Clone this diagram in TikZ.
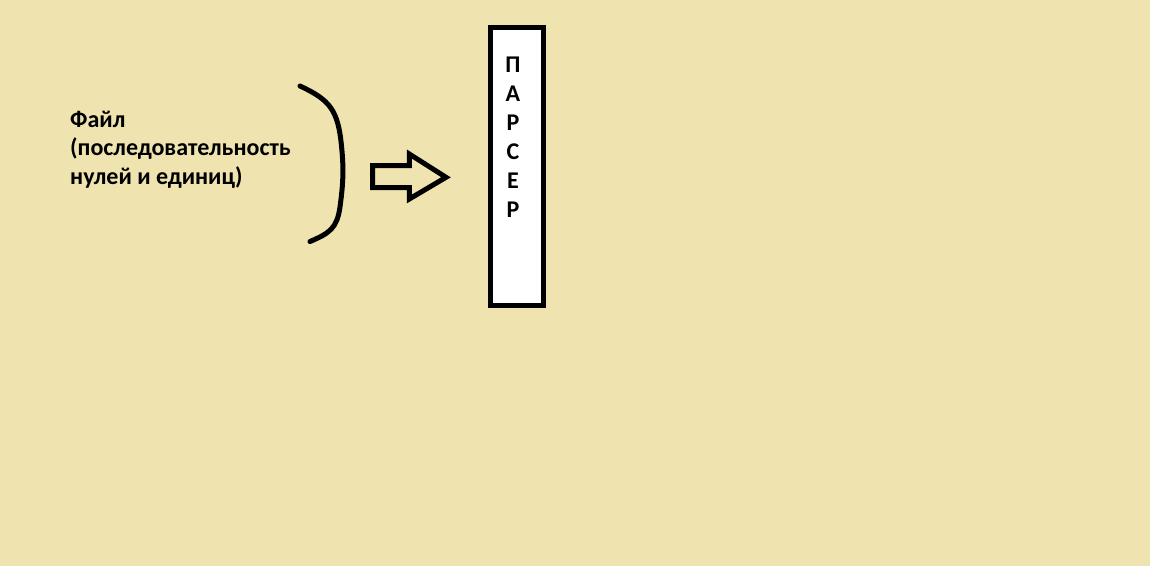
\documentclass[tikz,border=0pt]{standalone}
\usepackage{fontspec}
\setmainfont{Carlito}
\usetikzlibrary{positioning}
\definecolor{paper}{RGB}{239,228,176}
\tikzstyle{thickline}=[line width=5pt,line join=round,line cap=round]
\tikzstyle{label}=[font=\fontsize{24}{28.5}\selectfont\bfseries,inner sep=0pt,align=left]
\begin{document}
\begin{tikzpicture}[x=1pt,y=-1pt]
        \fill[paper] (0,0) rectangle (1150,566);
        \useasboundingbox (0,0) rectangle (1150,566);
        \node [label,anchor=north west] (file) at (70,110.5) {Файл\\(последовательность\\нулей и единиц)};
        \draw[thickline] (300,86) .. controls (330,100) and (338,110) .. (341.5,146)
            .. controls (344,170) and (343,185) .. (340,207)
            .. controls (337,228) and (330,233) .. (310,241.5);
        \draw[thickline,line cap=butt,line join=miter] (372.7,165.7) -- (409.3,165.7) -- (409.3,154)
            -- (446,177.3) -- (409.3,199) -- (409.3,187.7) -- (372.7,187.7) -- cycle;
        \node [draw,line width=5pt,fill=white,minimum width=52.7pt,minimum height=277.7pt,inner sep=0pt] (parser) at (516.9,166.4) {};
        \node [label,align=center,anchor=north,font=\fontsize{24}{29}\selectfont\bfseries] (letters) at (513,57) {П\\А\\Р\\С\\Е\\Р};
\end{tikzpicture}
\end{document}
